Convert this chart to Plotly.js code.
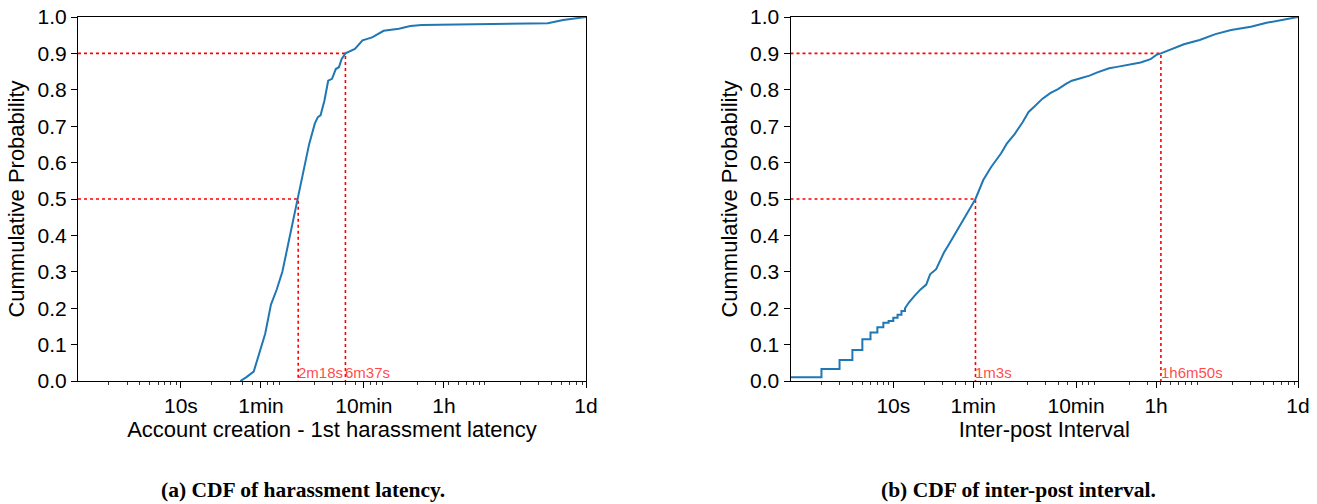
<!DOCTYPE html>
<html>
<head>
<meta charset="utf-8">
<script src="https://cdn.plot.ly/plotly-2.35.2.min.js"></script>
<style>
html,body{margin:0;padding:0;background:#fff;}
#chart{width:1317px;height:504px;}
</style>
</head>
<body>
<div id="chart"></div>
<script>
// ---- Data (seconds, cumulative probability) ----
const latencySeconds = [37.8, 43, 51, 60.5, 65.9, 75, 85, 96.8, 105.5, 114.8, 125, 138,
  161.7, 176, 200, 214, 227.5, 248, 270, 294, 320, 343, 364, 397,
  491, 582, 722, 786, 933, 1314, 1696, 2193, 5150, 36800, 51800, 86400];
const latencyCdf = [0.0, 0.01, 0.026, 0.095, 0.13, 0.21, 0.25, 0.30, 0.35, 0.40, 0.445, 0.5,
  0.6, 0.65, 0.707, 0.725, 0.73, 0.77, 0.825, 0.83, 0.857, 0.862, 0.884, 0.9,
  0.912, 0.936, 0.944, 0.95, 0.962, 0.968, 0.975, 0.978, 0.98, 0.983, 0.992, 1.0];

const intervalSeconds = [1, 2, 2, 3, 3, 4, 4, 5, 5, 6, 6, 7, 7, 8, 8, 9, 9, 10, 10,
  11, 11, 12, 12, 13, 13, 14.1, 16.0, 18.3, 20.9, 22.8, 26.1, 28.5, 31.1, 34, 38.7, 44.2, 48.3, 55.1, 63,
  75, 89.5, 102, 111.5, 127, 152, 181, 207, 236, 281, 336, 400, 478, 545, 650, 811, 966,
  1259, 1501, 1954, 2546, 3175, 3623, 4010, 5155, 6714, 9550, 13590, 19330, 30050, 42760, 60810, 86400];
const intervalCdf = [0.01, 0.01, 0.033, 0.033, 0.058, 0.058, 0.085, 0.085, 0.115, 0.115, 0.133, 0.133, 0.148, 0.148, 0.16, 0.16, 0.165, 0.165, 0.174,
  0.174, 0.182, 0.182, 0.192, 0.192, 0.2, 0.215, 0.233, 0.251, 0.265, 0.293, 0.307, 0.33, 0.353, 0.371, 0.399, 0.426, 0.443, 0.472, 0.5,
  0.552, 0.588, 0.611, 0.625, 0.652, 0.679, 0.711, 0.739, 0.754, 0.775, 0.791, 0.802, 0.816, 0.825, 0.831, 0.839, 0.848,
  0.859, 0.863, 0.868, 0.875, 0.884, 0.896, 0.9, 0.913, 0.925, 0.937, 0.953, 0.964, 0.973, 0.984, 0.991, 1.0];

// Quantile markers
const latencyQuantiles = [138, 397];
const latencyQuantileLabels = ["2m18s", "6m37s"];
const intervalQuantiles = [63, 4010];
const intervalQuantileLabels = ["1m3s", "1h6m50s"];
const quantileLevels = [0.5, 0.9];

// Ticks
const xTickVals = [10, 60, 600, 3600, 86400];
const xTickText = ["10s", "1min", "10min", "1h", "1d"];
const yTickVals = [0, 0.1, 0.2, 0.3, 0.4, 0.5, 0.6, 0.7, 0.8, 0.9, 1.0];

const minorVals = [];
for (let k = 0; k <= 4; k++) for (let m = 2; m <= 9; m++) { const v = m * Math.pow(10, k); if (v <= 86400) minorVals.push(v); }

const X_MIN = 1, X_MAX = 86400;
const blue = '#1f77b4';
const red = '#ff0000';

function quantileTraces(qs, xa, ya) {
  const tr = [];
  qs.forEach((q, i) => {
    tr.push({x: [X_MIN, q, q], y: [quantileLevels[i], quantileLevels[i], 0], mode: 'lines',
      line: {color: red, width: 1.6, dash: 'dot'}, xaxis: xa, yaxis: ya, hoverinfo: 'skip', showlegend: false});
  });
  return tr;
}

const data = [
  ...quantileTraces(latencyQuantiles, 'x', 'y'),
  ...quantileTraces(intervalQuantiles, 'x2', 'y2'),
  {x: latencySeconds, y: latencyCdf, mode: 'lines', line: {color: blue, width: 2}, xaxis: 'x', yaxis: 'y', showlegend: false},
  {x: intervalSeconds, y: intervalCdf, mode: 'lines', line: {color: blue, width: 2}, xaxis: 'x2', yaxis: 'y2', showlegend: false}
];

const tickFont = {family: 'Liberation Sans, Arial, sans-serif', size: 21, color: '#000'};
const titleFont = {family: 'Liberation Sans, Arial, sans-serif', size: 22, color: '#000'};

function xAxis(domain, title) {
  return {
    domain: domain, type: 'log', range: [Math.log10(X_MIN), Math.log10(X_MAX)],
    tickmode: 'array', tickvals: xTickVals, ticktext: xTickText,
    ticks: 'outside', ticklen: 6, tickwidth: 1, tickcolor: '#000',
    minor: {tickmode: 'array', tickvals: minorVals, ticks: 'outside', ticklen: 3, tickwidth: 0.8, tickcolor: '#000', showgrid: false},
    showline: true, linecolor: '#000', linewidth: 1, mirror: true,
    showgrid: false, zeroline: false, tickfont: tickFont, automargin: false,
    title: {text: title, font: titleFont, standoff: 0}
  };
}
function yAxis(anchor) {
  return {
    anchor: anchor, domain: [0, 1], range: [0, 1],
    tickmode: 'array', tickvals: yTickVals, tickformat: '.1f',
    ticks: 'outside', ticklen: 6, tickwidth: 1, tickcolor: '#000',
    showline: true, linecolor: '#000', linewidth: 1, mirror: true,
    showgrid: false, zeroline: false, tickfont: tickFont, automargin: false,
    title: {text: 'Cummulative Probability', font: titleFont, standoff: 6}
  };
}

const annotations = [];
function qLabels(qs, labels, xref, yref) {
  qs.forEach((q, i) => annotations.push({
    x: Math.log10(q), y: 0, xref: xref, yref: yref, text: labels[i], showarrow: false,
    xanchor: 'left', yanchor: 'bottom', xshift: -2, yshift: -2,
    font: {family: 'Liberation Sans, Arial, sans-serif', size: 15, color: 'rgba(255,40,40,0.85)'}
  }));
}
qLabels(latencyQuantiles, latencyQuantileLabels, 'x', 'y');
qLabels(intervalQuantiles, intervalQuantileLabels, 'x2', 'y2');

const capFont = {family: 'Liberation Serif, DejaVu Serif, serif', size: 21.5, color: '#000'};
annotations.push({xref: 'paper', yref: 'paper', x: 303/1317, y: -109/364, text: '<b>(a) CDF of harassment latency.</b>', showarrow: false, xanchor: 'center', yanchor: 'middle', font: capFont});
annotations.push({xref: 'paper', yref: 'paper', x: 1018/1317, y: -109/364, text: '<b>(b) CDF of inter-post interval.</b>', showarrow: false, xanchor: 'center', yanchor: 'middle', font: capFont});

const layout = {
  width: 1317, height: 504,
  margin: {l: 0, r: 0, t: 17, b: 123},
  paper_bgcolor: '#fff', plot_bgcolor: '#fff',
  xaxis: xAxis([78/1317, 586/1317], 'Account creation - 1st harassment latency'),
  yaxis: yAxis('x'),
  xaxis2: xAxis([790.5/1317, 1298/1317], 'Inter-post Interval'),
  yaxis2: yAxis('x2'),
  annotations: annotations,
  showlegend: false
};
layout.xaxis2.anchor = 'y2';
layout.xaxis.anchor = 'y';

Plotly.newPlot('chart', data, layout, {staticPlot: true, displayModeBar: false});
</script>
</body>
</html>
